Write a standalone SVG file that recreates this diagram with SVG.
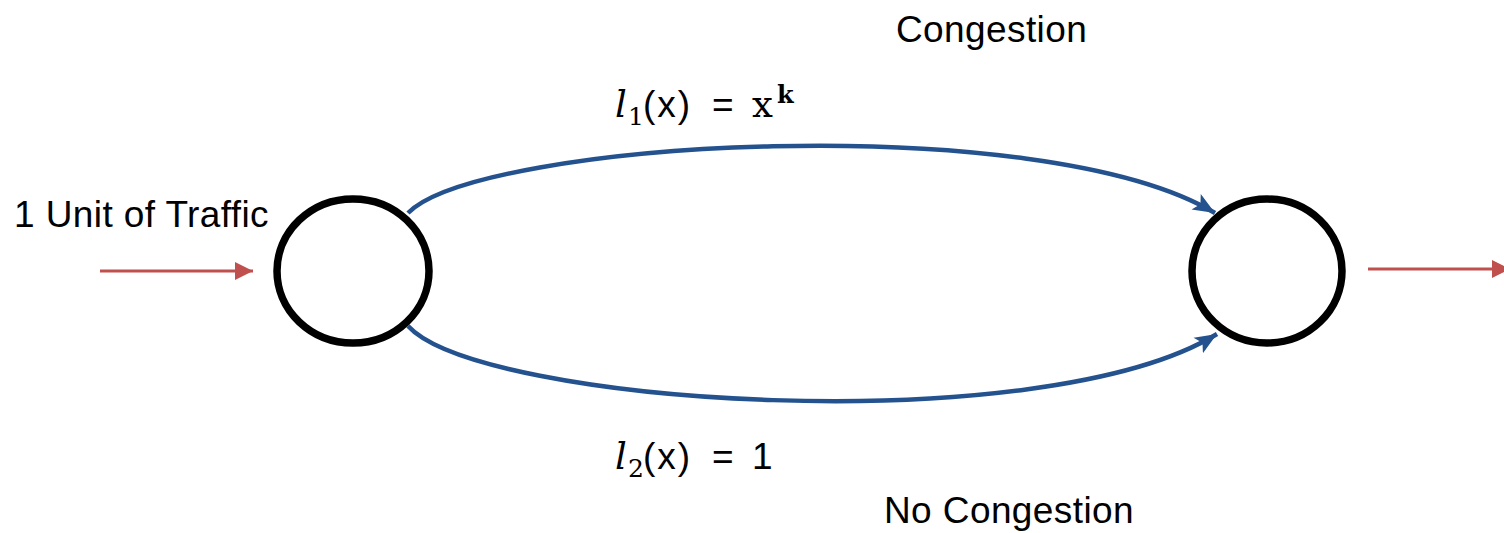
<svg xmlns="http://www.w3.org/2000/svg" width="1504" height="533" viewBox="0 0 1504 533">
<style>
.lbl{font-family:"Liberation Sans",Arial,sans-serif;font-size:37px;letter-spacing:0.4px;fill:#000}
.math{font-family:"Liberation Sans",Arial,sans-serif;font-size:37px;fill:#000}
.it{font-family:"DejaVu Serif","Liberation Serif",serif;font-style:italic}
.ser{font-family:"DejaVu Serif","Liberation Serif",serif}
.node{fill:#fff;stroke:#000;stroke-width:7.5}
.flow{fill:none;stroke:#24528E;stroke-width:4.5}
.io{fill:none;stroke:#C0504D;stroke-width:3}
</style>
<defs>
<marker id="ab" markerUnits="userSpaceOnUse" markerWidth="24" markerHeight="20" refX="22" refY="10" orient="auto">
<path d="M0,1 L22,10 L0,19 L5,10 Z" fill="#24528E"/>
</marker>
<marker id="ar" markerUnits="userSpaceOnUse" markerWidth="20" markerHeight="20" refX="18" refY="10" orient="auto">
<path d="M0,1 L18,10 L0,19 Z" fill="#C0504D"/>
</marker>
</defs>
<g id="connectors">
<path class="io" d="M100,271 L253,271" marker-end="url(#ar)"/>
<path class="io" d="M1368,269 L1510,269" marker-end="url(#ar)"/>
<path class="flow" d="M408,213 C480,140 1040,108 1215,213" marker-end="url(#ab)"/>
<path class="flow" d="M408,326 C480,405 1040,442 1217,334" marker-end="url(#ab)"/>
</g>
<g id="source">
<ellipse class="node" cx="353" cy="271" rx="76" ry="72"/>
</g>
<g id="sink">
<ellipse class="node" cx="1267" cy="271" rx="75" ry="72"/>
</g>
<g id="labels">
<text class="lbl" x="896" y="42">Congestion</text>
<text class="lbl" x="884" y="523">No Congestion</text>
<text class="lbl" x="14" y="227">1 Unit of Traffic</text>
<text class="math" y="117"><tspan class="it" x="615">l</tspan><tspan class="ser" font-size="25" x="628" dy="8">1</tspan><tspan x="643" dy="-8" letter-spacing="2">(x)</tspan><tspan x="712">=</tspan><tspan class="ser" x="752">x</tspan><tspan class="ser" font-size="24" font-weight="bold" x="777" dy="-14">k</tspan></text>
<text class="math" y="469"><tspan class="it" x="615">l</tspan><tspan class="ser" font-size="25" x="628" dy="8">2</tspan><tspan x="643" dy="-8" letter-spacing="2">(x)</tspan><tspan x="712">=</tspan><tspan x="752">1</tspan></text>
</g>
</svg>
